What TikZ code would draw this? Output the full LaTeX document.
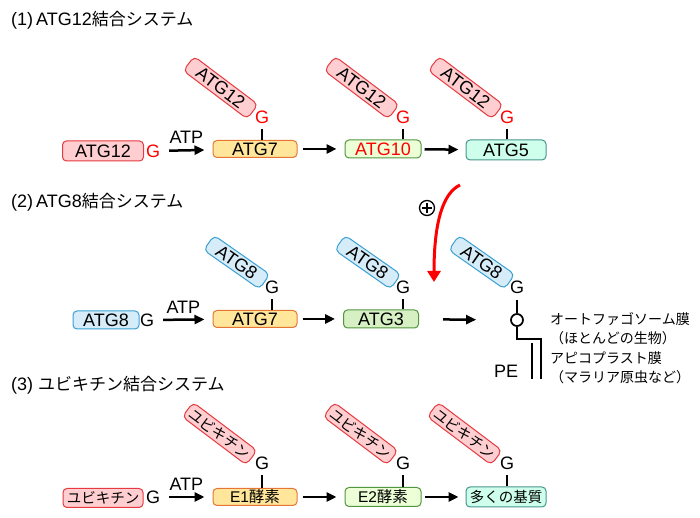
\documentclass[tikz,border=0pt]{standalone}
\usepackage{fontspec}
\setmainfont{Liberation Sans}
\newfontfamily\jpfont{Noto Sans CJK JP}
\usetikzlibrary{arrows.meta,positioning,calc}
\definecolor{ubqfill}{RGB}{255,206,208}
\definecolor{ubqline}{RGB}{228,58,64}
\definecolor{eafill}{RGB}{255,230,155}
\definecolor{ealine}{RGB}{230,118,52}
\definecolor{ebfill}{RGB}{236,255,214}
\definecolor{ebline}{RGB}{82,150,64}
\definecolor{ecfill}{RGB}{214,240,196}
\definecolor{subfill}{RGB}{206,255,236}
\definecolor{subline}{RGB}{72,148,140}
\definecolor{atgfill}{RGB}{214,236,248}
\definecolor{atgline}{RGB}{58,160,210}
\definecolor{glyred}{RGB}{255,0,0}
\tikzset{
  kocka/.style={draw,rounded corners=4pt,inner sep=0pt,line width=1pt,minimum height=18pt,
                font=\fontsize{18}{18}\selectfont},
  ubl/.style={kocka,fill=ubqfill,draw=ubqline},
  atgeight/.style={kocka,fill=atgfill,draw=atgline},
  enzA/.style={kocka,fill=eafill,draw=ealine,minimum height=17pt,minimum width=84pt},
  enzB/.style={kocka,fill=ebfill,draw=ebline,minimum width=76pt},
  enzC/.style={kocka,fill=ecfill,draw=ebline,minimum width=75pt},
  substrat/.style={kocka,fill=subfill,draw=subline,minimum height=20pt,minimum width=80pt},
  ferde/.style={rotate=#1,anchor=east,rounded corners=5pt},
  ferde/.default=-37,
  gly/.style={inner sep=0pt,font=\fontsize{18}{18}\selectfont},
  cim/.style={inner sep=0pt,anchor=west,font=\fontsize{18}{18}\selectfont},
  jp/.style={font=\fontsize{14.5}{14.5}\selectfont\jpfont},
  nyil/.style={-{Triangle[length=10pt,width=9pt]},line width=2.5pt,shorten <=5pt,shorten >=8pt},
  bot/.style={line width=1.7pt},
  atp/.style={above=2pt,midway,font=\fontsize{18}{18}\selectfont},
}
\begin{document}
\begin{tikzpicture}[x=1pt,y=1pt]
  \useasboundingbox (0,0) rectangle (700,518);
  % (1) ATG12
  \node[cim] (c1) at (11,498) {(1)\,ATG12{\fontsize{17}{17}\selectfont\jpfont 結合システム}};
  \node[ubl,minimum width=81pt,minimum height=20pt] (u1) at (103,367) {ATG12};
  \node[gly,text=glyred] (g1) at (153,367) {G};
  \node[enzA] (a7) at (255,369) {ATG7};
  \node[enzB,text=glyred] (a10) at (383,369) {ATG10};
  \node[substrat] (a5) at (506,368) {ATG5};
  \node[gly,text=glyred] (g1a) at (262,401) {G};
  \node[gly,text=glyred] (g1b) at (403,401) {G};
  \node[gly,text=glyred] (g1c) at (507,401) {G};
  \node[ubl,ferde,minimum width=80pt] (r1a) at ([shift={(-9,5)}]g1a.center) {ATG12};
  \node[ubl,ferde,minimum width=80pt] (r1b) at ([shift={(-9,5)}]g1b.center) {ATG12};
  \node[ubl,ferde,minimum width=80pt] (r1c) at ([shift={(-9,5)}]g1c.center) {ATG12};
  \draw[nyil,shorten <=9pt] (g1) -- node[atp] {ATP} (a7);
  \draw[nyil] (a7) -- (a10);
  \draw[nyil,shorten >=7pt,shorten <=3pt] (a10) -- (a5);
  \draw[bot] (a7.north -| g1a) -- ([yshift=-5pt]g1a.south);
  \draw[bot] (a10.north -| g1b) -- ([yshift=-5pt]g1b.south);
  \draw[bot] (a5.north -| g1c) -- ([yshift=-5pt]g1c.south);

  % (2) ATG8
  \node[cim] (c2) at (11,316) {(2)\,ATG8{\fontsize{17}{17}\selectfont\jpfont 結合システム}};
  \node[atgeight,minimum width=66pt] (u2) at (106,198) {ATG8};
  \node[gly] (g2) at (147,198) {G};
  \node[enzA] (b7) at (255,199) {ATG7};
  \node[enzC] (b3) at (381,199) {ATG3};
  \node[gly] (g2a) at (272,231) {G};
  \node[gly] (g2b) at (403,231) {G};
  \node[gly] (g2c) at (517,231) {G};
  \node[atgeight,ferde=-35,minimum width=68pt] (r2a) at ([shift={(-7,5)}]g2a.center) {ATG8};
  \node[atgeight,ferde=-35,minimum width=68pt] (r2b) at ([shift={(-7,5)}]g2b.center) {ATG8};
  \node[atgeight,ferde=-35,minimum width=68pt] (r2c) at ([shift={(-7,5)}]g2c.center) {ATG8};
  \node[circle,draw,line width=1.7pt,minimum size=12pt,inner sep=0pt] (pe) at (517,198) {};
  \draw[nyil,shorten <=24pt,shorten >=34pt] (b3) -- (pe);
  \draw[nyil,shorten <=9pt] (g2) -- node[atp] {ATP} (b7);
  \draw[nyil] (b7) -- (b3);
  \draw[bot] (b7.north -| g2a) -- ([yshift=-5pt]g2a.south);
  \draw[bot] (b3.north -| g2b) -- ([yshift=-5pt]g2b.south);
  \draw[bot] ([yshift=-6pt]g2c.south) -- (pe.north);
  \draw[bot] (pe.south) -- ++(0,-12) -- ++(24,0) -- ++(0,-40);
  \draw[bot] ([shift={(15,-16)}]pe.south) -- ++(0,-36);
  \node[gly] (pel) at (506,147) {PE};
  \node[anchor=west,align=left,inner sep=0pt,font=\fontsize{14}{19.5}\selectfont\jpfont] (mem) at (550,170)
    {オートファゴソーム膜\\（ほとんどの生物）\\アピコプラスト膜\\（マラリア原虫など）};
  % ATG12 -> ATG8
  \coordinate (rs) at (460,333);
  \coordinate (re) at (434,236);
  \draw[glyred,line width=3pt,-{Triangle[length=11pt,width=13pt]}] (rs) .. controls (441,324) and (434,290) .. (re);
  \node[circle,draw,line width=1.3pt,minimum size=15pt,inner sep=0pt] (plus) at (427,310) {};
  \draw[line width=1.3pt] ([yshift=-3pt]plus.north) -- ([yshift=3pt]plus.south);
  \draw[line width=1.3pt] ([xshift=3pt]plus.west) -- ([xshift=-3pt]plus.east);

  % (3) ubiquitin
  \node[cim] (c3) at (11,133) {(3) {\fontsize{17}{17}\selectfont\jpfont ユビキチン結合システム}};
  \node[ubl,jp,minimum width=80pt,minimum height=19pt] (u3) at (103,20) {ユビキチン};
  \node[gly] (g3) at (153,21) {G};
  \node[enzA,font=\fontsize{15.5}{15.5}\selectfont] (e1) at (255,21) {E1{\jpfont 酵素}};
  \node[enzB,minimum height=19pt,font=\fontsize{15.5}{15.5}\selectfont] (e2) at (383,21) {E2{\jpfont 酵素}};
  \node[substrat,jp] (s3) at (506,21) {多くの基質};
  \node[gly] (g3a) at (262,55) {G};
  \node[gly] (g3b) at (403,55) {G};
  \node[gly] (g3c) at (507,55) {G};
  \node[ubl,jp,ferde,minimum width=80pt] (r3a) at ([shift={(-10,5)}]g3a.center) {ユビキチン};
  \node[ubl,jp,ferde,minimum width=80pt] (r3b) at ([shift={(-10,5)}]g3b.center) {ユビキチン};
  \node[ubl,jp,ferde,minimum width=80pt] (r3c) at ([shift={(-10,5)}]g3c.center) {ユビキチン};
  \draw[nyil,shorten <=9pt] (g3) -- node[atp] {ATP} (e1);
  \draw[nyil] (e1) -- (e2);
  \draw[nyil,shorten >=7pt,shorten <=3pt] (e2) -- (s3);
  \draw[bot] (e1.north -| g3a) -- ([yshift=-5pt]g3a.south);
  \draw[bot] (e2.north -| g3b) -- ([yshift=-5pt]g3b.south);
  \draw[bot] (s3.north -| g3c) -- ([yshift=-5pt]g3c.south);
\end{tikzpicture}
\end{document}
